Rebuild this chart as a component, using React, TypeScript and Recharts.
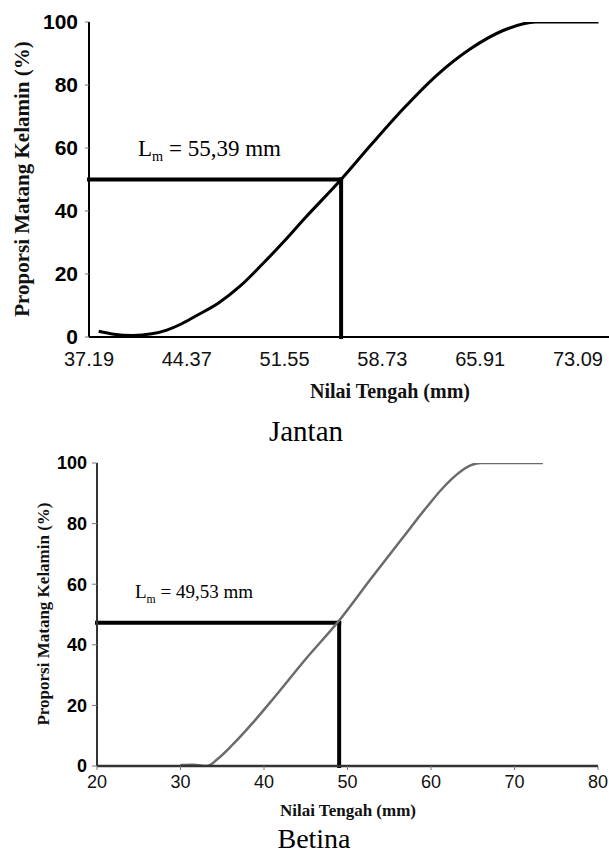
import React from 'react';
import { LineChart, Line, XAxis, YAxis, ReferenceLine } from 'recharts';

const percentTicks = [0, 20, 40, 60, 80, 100];

// Jantan (male)
const jantanTicks = [37.19, 44.37, 51.55, 58.73, 65.91, 73.09];
const jantanDomain = [37.19, 75.37];
const jantanCurve = [
  { x: 37.9, y: 1.8 },
  { x: 39.0, y: 0.9 },
  { x: 40.4, y: 0.5 },
  { x: 41.8, y: 1.0 },
  { x: 42.9, y: 2.2 },
  { x: 44.0, y: 4.2 },
  { x: 45.0, y: 6.6 },
  { x: 46.7, y: 10.8 },
  { x: 48.3, y: 16.2 },
  { x: 49.8, y: 22.6 },
  { x: 51.5, y: 30.3 },
  { x: 53.1, y: 38.0 },
  { x: 55.7, y: 50.0 },
  { x: 57.9, y: 61.0 },
  { x: 60.3, y: 72.6 },
  { x: 62.7, y: 83.0 },
  { x: 65.2, y: 91.5 },
  { x: 67.6, y: 97.3 },
  { x: 70.0, y: 100 },
  { x: 74.6, y: 100 },
];
const jantanCross = { x: 55.7, y: 50 };
const jantanLm = '55,39';

// Betina (female)
const betinaTicks = [20, 30, 40, 50, 60, 70, 80];
const betinaDomain = [20, 80];
const betinaCurve = [
  { x: 30.0, y: 0.3 },
  { x: 31.5, y: 0.4 },
  { x: 33.2, y: 0 },
  { x: 34.4, y: 2.2 },
  { x: 36.3, y: 7.2 },
  { x: 38.7, y: 14.4 },
  { x: 41.1, y: 22.2 },
  { x: 44.9, y: 35.0 },
  { x: 49.0, y: 48 },
  { x: 52.8, y: 61.8 },
  { x: 56.8, y: 76 },
  { x: 59.5, y: 85.5 },
  { x: 61.5, y: 92 },
  { x: 63.0, y: 96 },
  { x: 64.8, y: 99.3 },
  { x: 66.0, y: 100 },
  { x: 73.4, y: 100 },
];
const betinaCross = { x: 49.0, y: 47.3 };
const betinaLm = '49,53';

const SERIF = "'Liberation Serif', 'Times New Roman', serif";
const SANS = "'Liberation Sans', Arial, sans-serif";

const yTitle = 'Proporsi Matang Kelamin (%)';
const xTitle = 'Nilai Tengah (mm)';

function Panel({ cfg, ticks, domain, curve, cross, lm, caption }) {
  const lmLabel = (props) => {
    const vb = props.viewBox || { x: 0, y: 0 };
    const s = cfg.lm.size;
    return (
      <text x={vb.x + cfg.lm.dx} y={vb.y - cfg.lm.dy} fontFamily={SERIF} fontSize={s} fill="#000">
        <tspan>L</tspan>
        <tspan fontSize={s * 0.62} dy={s * 0.26}>m</tspan>
        <tspan dy={-s * 0.26}>{` = ${lm} mm`}</tspan>
      </text>
    );
  };

  return (
    <div style={{ position: 'absolute', left: 0, top: cfg.top, width: cfg.width, height: cfg.height }}>
      <LineChart width={cfg.width} height={cfg.height} margin={cfg.margin}>
        <XAxis
          type="number"
          dataKey="x"
          domain={domain}
          ticks={ticks}
          interval={0}
          allowDataOverflow
          height={cfg.xHeight}
          axisLine={{ stroke: cfg.axisColor, strokeWidth: cfg.xAxisWidth }}
          tickLine={cfg.xTickLine ? { stroke: '#777' } : false}
          tickSize={cfg.xTickSize}
          tickMargin={cfg.xTickMargin}
          tick={{ fontFamily: SANS, fontSize: cfg.xFont, fill: '#111' }}
        />
        <YAxis
          type="number"
          dataKey="y"
          domain={[0, 100]}
          ticks={percentTicks}
          interval={0}
          allowDataOverflow
          width={cfg.yWidth}
          axisLine={{ stroke: cfg.axisColor, strokeWidth: 2 }}
          tickLine={{ stroke: '#777' }}
          tickSize={cfg.yTickSize}
          tickMargin={cfg.yTickMargin}
          tick={{ fontFamily: SANS, fontSize: cfg.yFont, fontWeight: 'bold', fill: '#000' }}
        />
        <ReferenceLine
          segment={[{ x: domain[0], y: cross.y }, { x: cross.x, y: cross.y }]}
          stroke="#000"
          strokeWidth={4}
          strokeLinecap="square"
          ifOverflow="visible"
          label={lmLabel}
        />
        <ReferenceLine
          segment={[{ x: cross.x, y: cross.y }, { x: cross.x, y: 0 }]}
          stroke="#000"
          strokeWidth={4}
          strokeLinecap="square"
          ifOverflow="visible"
        />
        <Line
          data={curve}
          dataKey="y"
          type="monotone"
          stroke={cfg.curveColor}
          strokeWidth={cfg.curveWidth}
          dot={false}
          activeDot={false}
          isAnimationActive={false}
        />
      </LineChart>
      <svg
        width={cfg.width}
        height={cfg.overlayHeight}
        style={{ position: 'absolute', left: 0, top: 0, pointerEvents: 'none', overflow: 'visible' }}
      >
        <text
          x={cfg.yTitle.x}
          y={cfg.yTitle.y}
          transform={`rotate(-90, ${cfg.yTitle.x}, ${cfg.yTitle.y})`}
          textAnchor="middle"
          fontFamily={SERIF}
          fontWeight="bold"
          fontSize={cfg.yTitle.size}
          fill="#111"
        >
          {yTitle}
        </text>
        <text
          x={cfg.xTitle.x}
          y={cfg.xTitle.y}
          textAnchor="middle"
          fontFamily={SERIF}
          fontWeight="bold"
          fontSize={cfg.xTitle.size}
          fill="#111"
        >
          {xTitle}
        </text>
        <text
          x={cfg.caption.x}
          y={cfg.caption.y}
          textAnchor="middle"
          fontFamily={SERIF}
          fontSize={cfg.caption.size}
          fill="#000"
        >
          {caption}
        </text>
      </svg>
    </div>
  );
}

const jantanCfg = {
  top: 0,
  width: 609,
  height: 440,
  overlayHeight: 455,
  margin: { top: 22, right: 0, bottom: 0, left: 0 },
  yWidth: 89,
  xHeight: 103,
  axisColor: '#000',
  xAxisWidth: 2,
  xTickLine: false,
  xTickSize: 6,
  xTickMargin: 9,
  xFont: 20,
  yTickSize: 4,
  yTickMargin: 7,
  yFont: 21,
  curveColor: '#000',
  curveWidth: 3,
  lm: { dx: 49, dy: 24, size: 23 },
  yTitle: { x: 29, y: 179, size: 21 },
  xTitle: { x: 390, y: 398, size: 20 },
  caption: { x: 306, y: 441, size: 29 },
};

const betinaCfg = {
  top: 440,
  width: 609,
  height: 415,
  overlayHeight: 415,
  margin: { top: 23, right: 11, bottom: 0, left: 0 },
  yWidth: 97,
  xHeight: 89,
  axisColor: '#333',
  xAxisWidth: 2.5,
  xTickLine: true,
  xTickSize: 4,
  xTickMargin: 5,
  xFont: 18,
  yTickSize: 5,
  yTickMargin: 5,
  yFont: 18,
  curveColor: '#6b6b6b',
  curveWidth: 2.5,
  lm: { dx: 38, dy: 25, size: 19 },
  yTitle: { x: 49, y: 174, size: 17 },
  xTitle: { x: 348, y: 376, size: 17 },
  caption: { x: 314, y: 408, size: 28 },
};

export default function App() {
  return (
    <div style={{ position: 'absolute', left: 0, top: 0, width: 609, height: 855, background: '#fff' }}>
      <Panel
        cfg={jantanCfg}
        ticks={jantanTicks}
        domain={jantanDomain}
        curve={jantanCurve}
        cross={jantanCross}
        lm={jantanLm}
        caption="Jantan"
      />
      <Panel
        cfg={betinaCfg}
        ticks={betinaTicks}
        domain={betinaDomain}
        curve={betinaCurve}
        cross={betinaCross}
        lm={betinaLm}
        caption="Betina"
      />
    </div>
  );
}
